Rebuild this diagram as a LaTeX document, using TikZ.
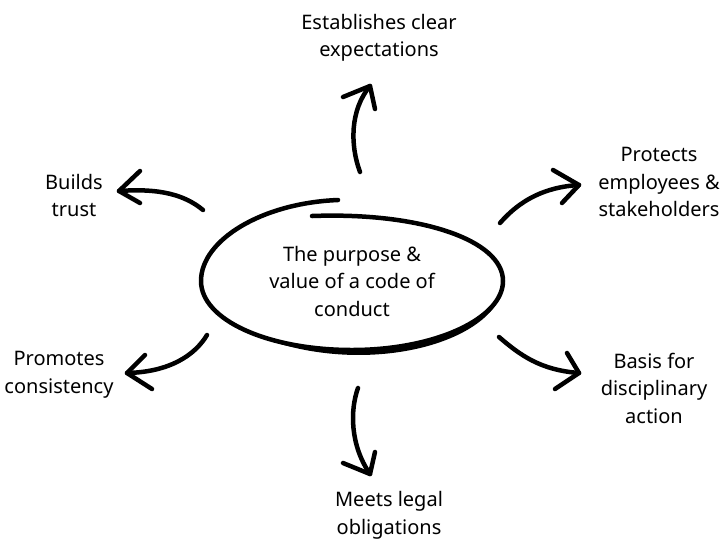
\documentclass[tikz,border=0pt]{standalone}
\usepackage{fontspec}
\setmainfont{Noto Sans}
\begin{document}
\begin{tikzpicture}[x=1pt,y=-1pt,
  lbl/.style={align=center,inner sep=0pt,font=\fontsize{20}{27.5}\selectfont},
  shaft/.style={line width=4.5pt,line cap=round,line join=round},
  head/.style={line width=4.5pt,line cap=round,line join=round}]
\useasboundingbox (0,0) rectangle (727,547);
% central ellipse (hand drawn)
\draw[line width=4.5pt,line cap=round] (338,200) .. controls (262,203) and (201,240) .. (201,281)
  .. controls (201,320) and (268,350) .. (352,350)
  .. controls (436,350) and (503,318) .. (503,281)
  .. controls (503,240) and (420,212) .. (312,216);
% thicker bottom (pen pressure)
\fill[black] plot[domain=16:127,samples=80]
   ({352+(152+4.5*sin((\x-15)*1.6))*cos(\x)},{281+(70+4.5*sin((\x-15)*1.6))*sin(\x)})
   -- plot[domain=127:16,samples=40] ({352+151*cos(\x)},{281+69*sin(\x)}) -- cycle;
\node[lbl] (center) at (352,281) {The purpose \&\\value of a code of\\conduct};
% labels
\node[lbl] (top) at (379,38) {Establishes clear\\expectations};
\node[lbl] (ur) at (659,182) {Protects\\employees \&\\stakeholders};
\node[lbl] (ul) at (74,195.5) {Builds\\trust};
\node[lbl] (ll) at (59,374.5) {Promotes\\consistency};
\node[lbl] (lr) at (654,388) {Basis for\\disciplinary\\action};
\node[lbl] (bot) at (389,515.5) {Meets legal\\obligations};
% arrow coordinates
\coordinate (s1) at (360,172); \coordinate (t1) at (370,86);
\coordinate (s2) at (500,223); \coordinate (t2) at (579,185);
\coordinate (s3) at (499,337); \coordinate (t3) at (579,373);
\coordinate (s4) at (203,210); \coordinate (t4) at (119,191);
\coordinate (s5) at (207,335); \coordinate (t5) at (127,373);
\coordinate (s6) at (358,388); \coordinate (t6) at (370,474);
% arrows
\draw[shaft] (s1) .. controls (350,145) and (350,110) .. (t1);
\draw[head] (343,97) -- (t1) -- (375,109);
\draw[shaft] (s2) .. controls (520,200) and (545,187) .. (t2);
\draw[head] (553,170) -- (t2) -- (562,203);
\draw[shaft] (s3) .. controls (520,355) and (540,370) .. (t3);
\draw[head] (567,353) -- (t3) -- (555,389);
\draw[shaft] (s4) .. controls (185,195) and (160,188) .. (t4);
\draw[head] (140,171) -- (t4) -- (140,203);
\draw[shaft] (s5) .. controls (195,355) and (170,372) .. (t5);
\draw[head] (145,355) -- (t5) -- (152,389);
\draw[shaft] (s6) .. controls (350,410) and (350,445) .. (t6);
\draw[head] (343,463) -- (t6) -- (375,452);
\end{tikzpicture}
\end{document}
